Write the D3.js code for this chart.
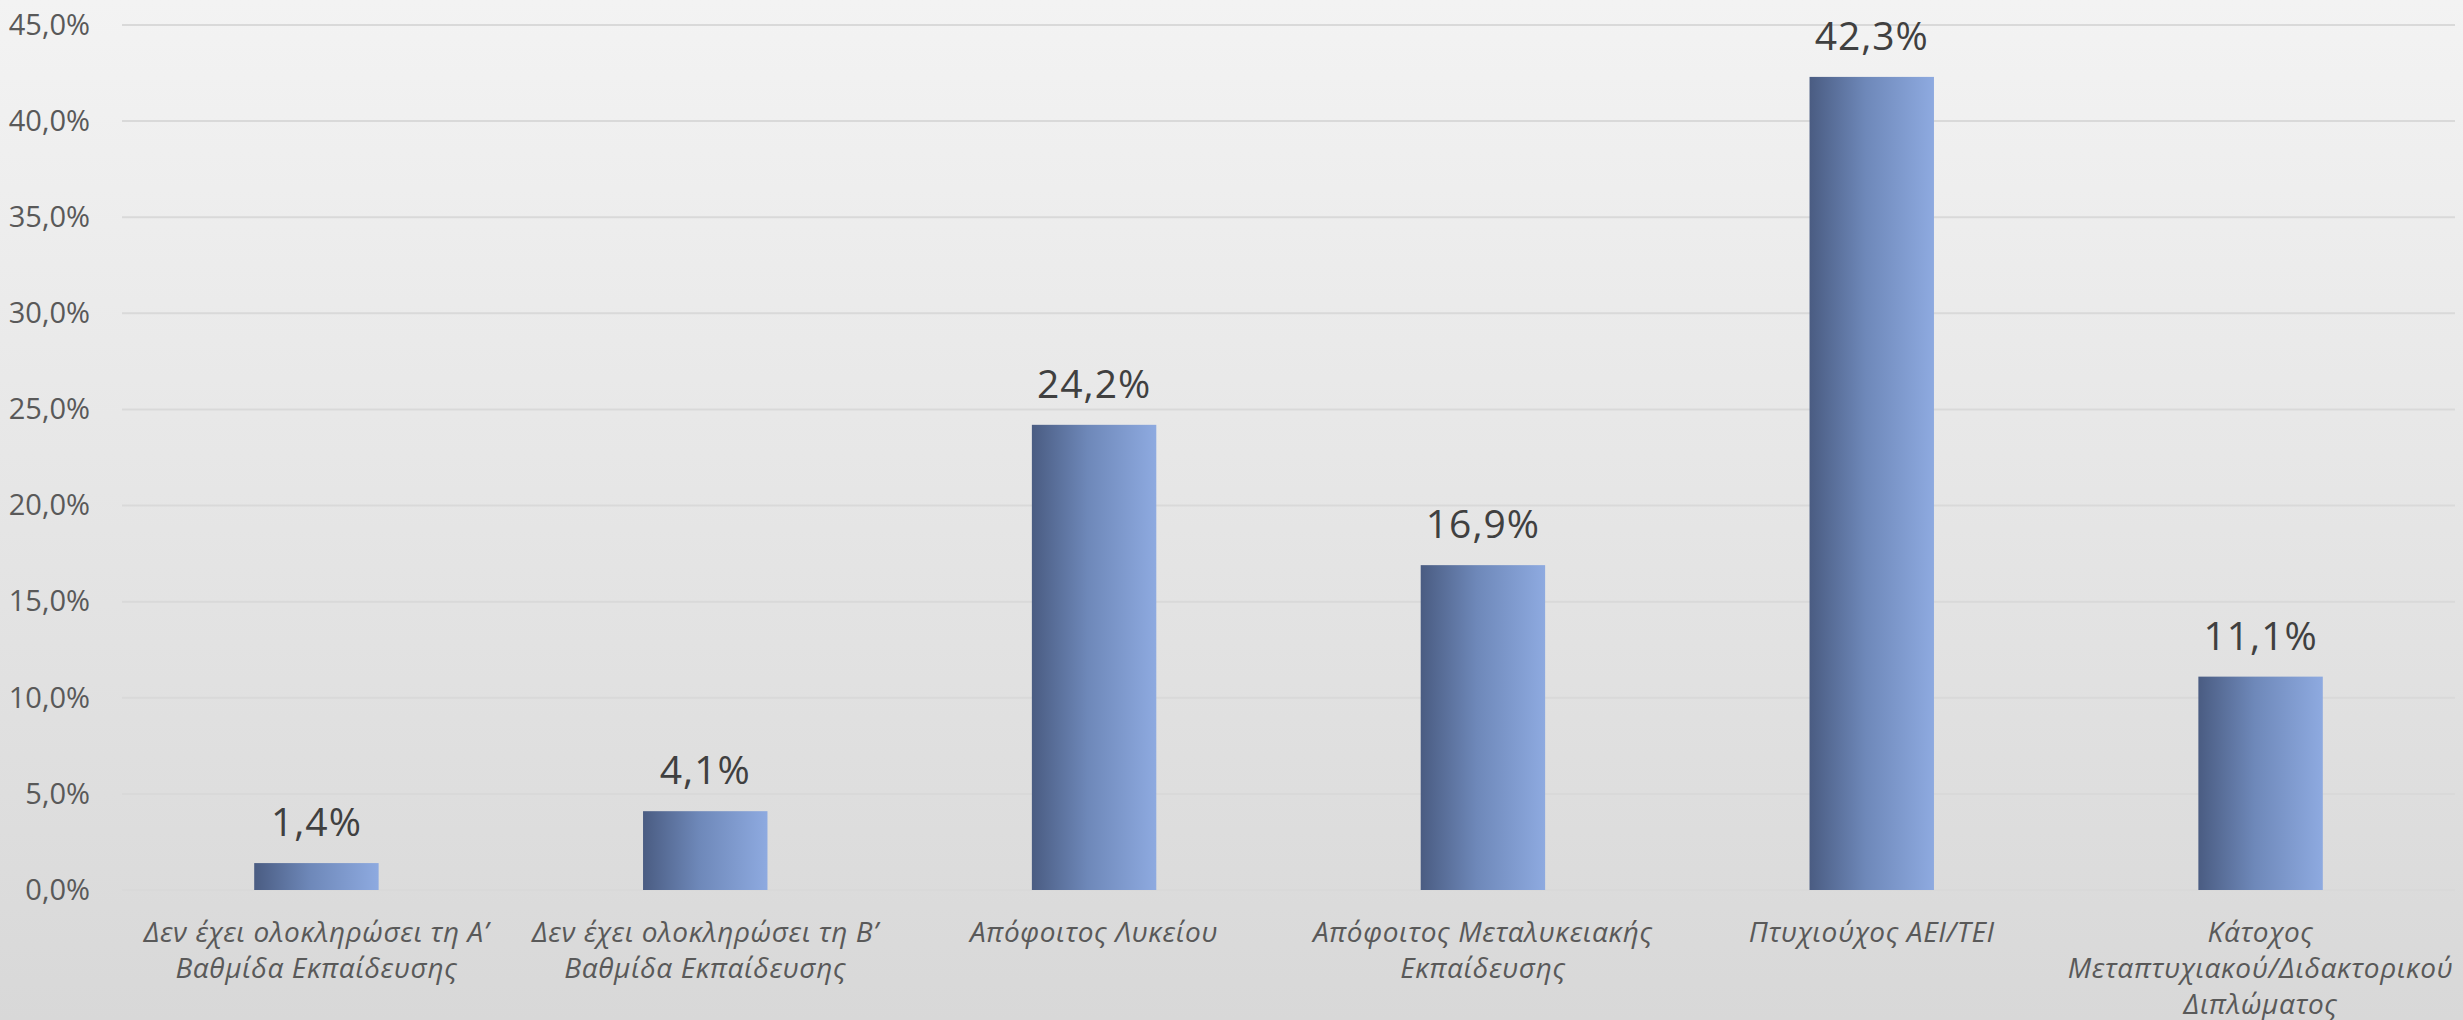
<!DOCTYPE html>
<html lang="el">
<head>
  <meta charset="UTF-8">
  <title>Επίπεδο εκπαίδευσης</title>
  <script src="https://d3js.org/d3.v7.min.js"></script>
  <style>
    html, body { margin: 0; padding: 0; overflow: hidden; }
    .tick text { font-family: "Open Sans", "Noto Sans", sans-serif; }
  </style>
</head>
<body>
  <svg width="2463" height="1020"></svg>
  <script>
    // categories: each label already split into its wrapped lines
    const categories = [
      "Δεν έχει ολοκληρώσει τη Α’\nΒαθμίδα Εκπαίδευσης",
      "Δεν έχει ολοκληρώσει τη Β’\nΒαθμίδα Εκπαίδευσης",
      "Απόφοιτος Λυκείου",
      "Απόφοιτος Μεταλυκειακής\nΕκπαίδευσης",
      "Πτυχιούχος ΑΕΙ/ΤΕΙ",
      "Κάτοχος\nΜεταπτυχιακού/Διδακτορικού\nΔιπλώματος"
    ];
    const values = [1.4, 4.1, 24.2, 16.9, 42.3, 11.1];
    const yTicks = [0, 5, 10, 15, 20, 25, 30, 35, 40, 45];

    const svg = d3.select("svg"),
          width = +svg.attr("width"),
          height = +svg.attr("height");

    const margin = { top: 25, right: 8, bottom: 130, left: 122 };

    const locale = d3.formatLocale({ decimal: ",", thousands: ".", grouping: [3], currency: ["", "€"] });
    const fmt = locale.format(".1f");

    const defs = svg.append("defs");
    const bg = defs.append("linearGradient").attr("id", "bg")
      .attr("x1", 0).attr("y1", 0).attr("x2", 0).attr("y2", 1);
    bg.append("stop").attr("offset", "0%").attr("stop-color", "#f3f3f3");
    bg.append("stop").attr("offset", "100%").attr("stop-color", "#d8d8d8");

    const barGrad = defs.append("linearGradient").attr("id", "bar")
      .attr("x1", 0).attr("y1", 0).attr("x2", 1).attr("y2", 0);
    barGrad.append("stop").attr("offset", "0%").attr("stop-color", "#4a5c82");
    barGrad.append("stop").attr("offset", "45%").attr("stop-color", "#6e88b9");
    barGrad.append("stop").attr("offset", "100%").attr("stop-color", "#8eaae0");

    svg.append("rect").attr("width", width).attr("height", height).attr("fill", "url(#bg)");

    const x = d3.scaleBand()
      .domain(categories)
      .range([margin.left, width - margin.right])
      .paddingInner(0.68)
      .paddingOuter(0.34);

    const y = d3.scaleLinear()
      .domain([0, 45])
      .range([height - margin.bottom, margin.top]);

    // gridlines
    svg.append("g")
      .selectAll("line")
      .data(yTicks)
      .join("line")
      .attr("x1", margin.left)
      .attr("x2", width - margin.right)
      .attr("y1", d => y(d))
      .attr("y2", d => y(d))
      .attr("stroke", "#d9d9d9")
      .attr("stroke-width", 2);

    // y axis labels
    const yAxis = svg.append("g")
      .attr("transform", `translate(${margin.left},0)`)
      .call(d3.axisLeft(y).tickValues(yTicks).tickFormat(d => fmt(d) + "%").tickSize(0).tickPadding(32));
    yAxis.select(".domain").remove();
    yAxis.selectAll("text")
      .attr("fill", "#595959")
      .attr("font-size", 29);

    // bars
    svg.append("g")
      .selectAll("rect")
      .data(values)
      .join("rect")
      .attr("x", (d, i) => x(categories[i]))
      .attr("y", d => y(d))
      .attr("width", x.bandwidth())
      .attr("height", d => y(0) - y(d))
      .attr("fill", "url(#bar)");

    // data labels
    svg.append("g")
      .selectAll("text")
      .data(values)
      .join("text")
      .attr("x", (d, i) => x(categories[i]) + x.bandwidth() / 2)
      .attr("y", d => y(d) - 27)
      .attr("text-anchor", "middle")
      .attr("font-family", "'Open Sans', 'Noto Sans', sans-serif")
      .attr("font-size", 39)
      .attr("letter-spacing", 1)
      .attr("fill", "#404040")
      .text(d => fmt(d) + "%");

    // category labels
    const cat = svg.append("g")
      .selectAll("text")
      .data(categories)
      .join("text")
      .attr("text-anchor", "middle")
      .attr("font-family", "'Open Sans', 'Noto Sans', sans-serif")
      .attr("font-style", "italic")
      .attr("font-size", 28)
      .attr("letter-spacing", 0.6)
      .attr("fill", "#595959");

    cat.selectAll("tspan")
      .data(d => d.split("\n").map(line => ({ line, key: d })))
      .join("tspan")
      .attr("x", d => x(d.key) + x.bandwidth() / 2)
      .attr("y", (d, i) => y(0) + 52 + i * 36)
      .text(d => d.line);
  </script>
</body>
</html>
